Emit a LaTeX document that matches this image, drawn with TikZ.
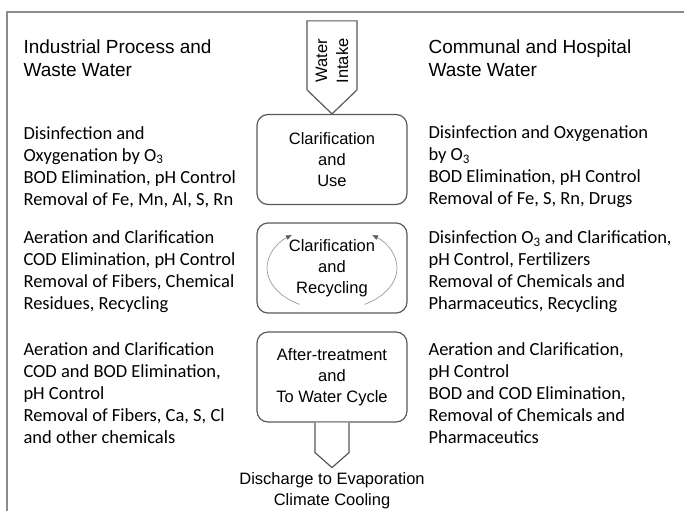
\documentclass[tikz,border=0pt]{standalone}
\usepackage{fontspec}
\setmainfont{Carlito}
\newfontfamily\arialfont{Liberation Sans}
\usetikzlibrary{arrows.meta,positioning}
\definecolor{edge}{HTML}{595959}
\definecolor{frame}{HTML}{8C8C8C}
\definecolor{cyc}{HTML}{999999}

\begin{document}
\begin{tikzpicture}[
  >={Latex[length=6pt,width=5pt]},
  x=1pt,y=-1pt,
  stage/.style={rectangle,draw=edge,line width=1.2pt,rounded corners=11pt,minimum width=150pt,minimum height=90pt,align=center,font=\arialfont\fontsize{16.5}{21}\selectfont},
  head/.style={anchor=west,align=left,font=\arialfont\fontsize{19}{23}\selectfont},
  body/.style={anchor=west,align=left,font=\fontsize{18.5}{22}\selectfont},
  pipe/.style={draw=edge,line width=1.2pt,fill=white},
  lbl/.style={align=center,font=\arialfont\fontsize{16.5}{21}\selectfont}]

\useasboundingbox (0,0) rectangle (684,511);

% frame
\draw[frame,line width=1.5pt] (684,12) -- (7,12) -- (7,511);

% stages
\node[stage] (use) at (332,159.5) {Clarification\\and\\Use};
\node[stage] (recycle) at (332,268) {Clarification\\and\\Recycling};
\node[stage] (after) at (332,377) {After-treatment\\and\\To Water Cycle};

% recycling loop
\draw[cyc,line width=0.7pt,-{Latex[length=6pt,width=5pt,color=edge]}] (recycle.center) ++(120:65 and 42)
  arc[start angle=120,end angle=232,x radius=65,y radius=42];
\draw[cyc,line width=0.7pt,-{Latex[length=6pt,width=5pt,color=edge]}] (recycle.center) ++(60:65 and 42)
  arc[start angle=60,end angle=-52,x radius=65,y radius=42];

% intake and discharge
\draw[pipe] (use.north) -- ++(-25,-24) -- ++(0,-69) -- ++(50,0) -- ++(0,69) -- cycle;
\node[lbl,rotate=90] (intake) at (332,61) {Water\\Intake};
\draw[pipe] ([xshift=-17pt]after.south) -- ++(0,30) -- ++(17,15) -- ++(17,-15) -- ++(0,-30);
\node[lbl] (discharge) at (332,491) {Discharge to Evaporation\\Climate Cooling};

% headers
\node[head] (lhead) at (20,58.5) {Industrial Process and\\Waste Water};
\node[head] (rhead) at (425,58.5) {Communal and Hospital\\Waste Water};

% industrial side
\node[body] (ind1) at (20,167) {Disinfection and\\Oxygenation by O\textsubscript{3}\\BOD Elimination, pH Control\\Removal of Fe, Mn, Al, S, Rn};
\node[body] (ind2) at (20,272) {Aeration and Clarification\\COD Elimination, pH Control\\Removal of Fibers, Chemical\\Residues, Recycling};
\node[body] (ind3) at (20,393) {Aeration and Clarification\\COD and BOD Elimination,\\pH Control\\Removal of Fibers, Ca, S, Cl\\and other chemicals};

% communal side
\node[body] (com1) at (425,167) {Disinfection and Oxygenation\\by O\textsubscript{3}\\BOD Elimination, pH Control\\Removal of Fe, S, Rn, Drugs};
\node[body] (com2) at (425,272) {Disinfection O\textsubscript{3} and Clarification,\\pH Control, Fertilizers\\Removal of Chemicals and\\Pharmaceutics, Recycling};
\node[body] (com3) at (425,393) {Aeration and Clarification,\\pH Control\\BOD and COD Elimination,\\Removal of Chemicals and\\Pharmaceutics};
\end{tikzpicture}
\end{document}
